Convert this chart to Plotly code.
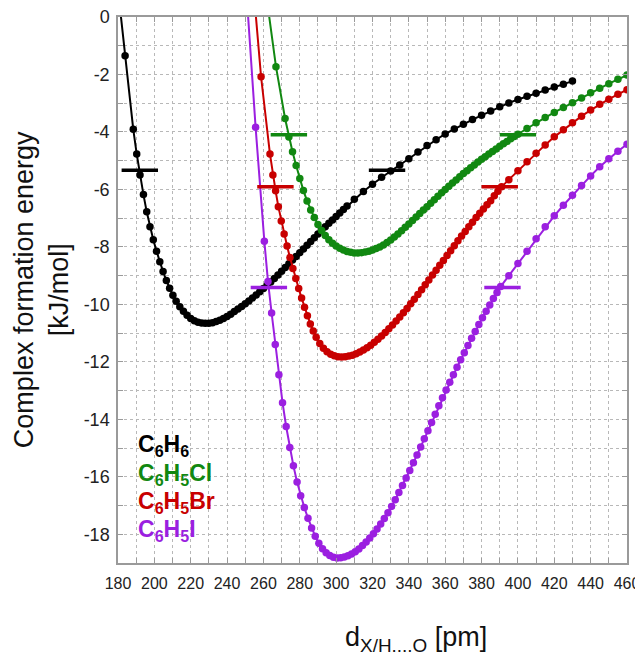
import plotly.graph_objects as go

# ---------------- data ----------------
series_names = ["C<sub>6</sub>H<sub>6</sub>", "C<sub>6</sub>H<sub>5</sub>Cl",
                "C<sub>6</sub>H<sub>5</sub>Br", "C<sub>6</sub>H<sub>5</sub>I"]
series_colors = ["#000000", "#118811", "#c80000", "#9b1fe0"]

x_c6h6 = [180.6, 183.9, 188.4, 190.3, 192.1, 194.0, 195.8, 197.6, 199.4, 201.2, 203.0, 204.8, 206.6, 208.4, 210.2,
          212, 214, 216, 218, 220, 222, 224, 226, 228, 230, 232, 234, 236, 238, 240, 242, 244, 246, 248, 250,
          252, 254, 256, 258, 260, 262, 264, 266, 268, 270, 272, 274, 276, 278, 280, 282, 284, 286, 288, 290,
          292, 294, 296, 298, 300, 302, 304, 306,
          310, 315, 320, 325, 330, 335, 340, 345, 350, 355, 360, 365, 370, 375, 380, 385, 390, 395, 400, 405,
          410, 415, 420, 425, 430]
y_c6h6 = [0.6, -1.35, -3.91, -4.77, -5.5, -6.18, -6.78, -7.3, -7.75, -8.15, -8.52, -8.86, -9.17, -9.44, -9.68,
          -9.89, -10.08, -10.24, -10.38, -10.49, -10.57, -10.62, -10.65, -10.66, -10.66, -10.64, -10.6, -10.55,
          -10.49, -10.42, -10.34, -10.25, -10.16, -10.07, -9.98, -9.88, -9.78, -9.67, -9.56, -9.45, -9.34, -9.22,
          -9.1, -8.98, -8.85, -8.72, -8.59, -8.46, -8.33, -8.2, -8.07, -7.94, -7.81, -7.68, -7.55, -7.42, -7.3,
          -7.18, -7.06, -6.94, -6.82, -6.7, -6.58,
          -6.34, -6.07, -5.82, -5.58, -5.36, -5.15, -4.93, -4.7, -4.47, -4.27, -4.07, -3.9, -3.73, -3.57, -3.42,
          -3.27, -3.12, -2.99, -2.87, -2.76, -2.65, -2.54, -2.44, -2.34, -2.23]

x_c6h5cl = [262.2, 266.9, 271.9, 274.0, 276.0, 278.0, 280.0, 282.0, 284.0, 286.0, 288.0,
            290, 292, 294, 296, 298, 300, 302, 304, 306, 308, 310, 312, 314, 316, 318, 320, 322, 324, 326, 328,
            330, 332, 334, 336, 338, 340, 342, 344, 346, 348, 350, 352, 354, 356, 358, 360, 362, 364, 366, 368,
            370, 372, 374, 376, 378, 380, 382, 384, 386, 388, 390, 392, 394, 396, 398, 400,
            405, 410, 415, 420, 425, 430, 435, 440, 445, 450, 455, 460]
y_c6h5cl = [0.47, -1.73, -3.53, -4.18, -4.69, -5.17, -5.62, -6.04, -6.4, -6.72, -6.98,
            -7.22, -7.43, -7.6, -7.75, -7.87, -7.97, -8.05, -8.11, -8.16, -8.19, -8.21, -8.21, -8.2, -8.18, -8.15,
            -8.11, -8.06, -8.0, -7.93, -7.85, -7.76, -7.66, -7.55, -7.44, -7.32, -7.2, -7.08, -6.96, -6.84, -6.72,
            -6.6, -6.48, -6.36, -6.24, -6.12, -6.0, -5.89, -5.78, -5.67, -5.56, -5.45, -5.35, -5.25, -5.15, -5.05,
            -4.95, -4.86, -4.77, -4.68, -4.59, -4.5, -4.41, -4.33, -4.24, -4.16, -4.08,
            -3.88, -3.68, -3.5, -3.32, -3.15, -2.98, -2.82, -2.64, -2.48, -2.32, -2.17, -2.02]

x_c6h5br = [254.8, 258.7, 263.6, 265.2, 266.7, 268.2, 269.8, 271.4, 273.0, 274.6, 276.2, 277.8, 279.4, 281.0,
            282.6, 284.2, 285.8, 287.4, 289.0,
            291, 293, 295, 297, 299, 301, 303, 305, 307, 309, 311, 313, 315, 317, 319, 321, 323, 325, 327, 329,
            331, 333, 335, 337, 339, 341, 343, 345, 347, 349, 351, 353, 355, 357, 359, 361, 363, 365, 367, 369,
            371, 373, 375, 377, 379, 381, 383, 385, 387, 389, 391,
            395, 400, 405, 410, 415, 420, 425, 430, 435, 440, 445, 450, 455, 460]
y_c6h5br = [0.8, -2.08, -4.77, -5.5, -6.05, -6.6, -7.1, -7.55, -7.97, -8.37, -8.75, -9.1, -9.45, -9.78, -10.1,
            -10.4, -10.68, -10.93, -11.14,
            -11.36, -11.53, -11.65, -11.74, -11.79, -11.82, -11.83, -11.82, -11.8, -11.77, -11.72, -11.66, -11.59,
            -11.51, -11.42, -11.32, -11.21, -11.1, -10.98, -10.85, -10.72, -10.58, -10.44, -10.29, -10.14, -9.98,
            -9.82, -9.66, -9.49, -9.32, -9.15, -8.98, -8.81, -8.64, -8.47, -8.3, -8.13, -7.96, -7.79, -7.62,
            -7.46, -7.3, -7.14, -6.98, -6.83, -6.68, -6.53, -6.39, -6.22, -6.06, -5.91,
            -5.66, -5.35, -5.04, -4.74, -4.45, -4.17, -3.92, -3.68, -3.45, -3.24, -3.04, -2.86, -2.69, -2.53]

x_c6h5i = [251.0, 255.7, 260.5,
           262.5, 264.5, 266.5, 268.5, 270.5, 272.5, 274.5, 276.5, 278.5, 280.5, 282.5, 284.5, 286.5, 288.5,
           290.5, 292.5, 294.5, 296.5, 298.5, 300.5, 302.5, 304.5, 306.5, 308.5, 310.5, 312.5, 314.5, 316.5,
           318.5, 320.5, 322.5, 324.5, 326.5, 328.5, 330.5, 332.5, 334.5, 336.5, 338.5, 340.5, 342.5, 344.5,
           346.5, 348.5, 350.5, 352.5, 354.5, 356.5, 358.5, 360.5, 362.5, 364.5, 366.5, 368.5, 370.5, 372.5,
           374.5, 376.5, 378.5, 380.5, 382.5, 384.5, 386.5, 388.5, 390.5,
           395, 400, 405, 410, 415, 420, 425, 430, 435, 440, 445, 450, 455, 460]
y_c6h5i = [0.55, -3.84, -7.8,
           -9.2, -10.3, -11.4, -12.45, -13.42, -14.25, -14.98, -15.62, -16.18, -16.66, -17.07, -17.44, -17.78,
           -18.07, -18.31, -18.5, -18.64, -18.74, -18.8, -18.83, -18.82, -18.79, -18.75, -18.69, -18.61, -18.51,
           -18.39, -18.27, -18.13, -17.98, -17.82, -17.64, -17.45, -17.25, -17.03, -16.8, -16.55, -16.3, -16.04,
           -15.78, -15.51, -15.24, -14.96, -14.68, -14.4, -14.11, -13.82, -13.53, -13.25, -12.98, -12.71, -12.45,
           -12.19, -11.93, -11.68, -11.43, -11.18, -10.94, -10.7, -10.47, -10.24, -10.02, -9.8, -9.59, -9.38,
           -9.0, -8.58, -8.15, -7.72, -7.3, -6.92, -6.55, -6.2, -5.86, -5.53, -5.21, -4.93, -4.67, -4.43]

# half-depth markers (E = Emin / 2) on both sides of each well
half_x = [[192.0, 328.0], [274.0, 400.0], [266.6, 390.0], [263.0, 391.5]]
half_y = [[-5.33, -5.33], [-4.1, -4.1], [-5.91, -5.91], [-9.41, -9.41]]

x_tick_vals = list(range(180, 461, 20))
x_tick_text = [str(v) for v in x_tick_vals]
y_tick_vals = [0, -2, -4, -6, -8, -10, -12, -14, -16, -18]
y_tick_text = ["0", "-2", "-4", "-6", "-8", "-10", "-12", "-14", "-16", "-18"]

xs = [x_c6h6, x_c6h5cl, x_c6h5br, x_c6h5i]
ys = [y_c6h6, y_c6h5cl, y_c6h5br, y_c6h5i]
for a, b in zip(xs, ys):
    assert len(a) == len(b), (len(a), len(b))

# ---------------- figure ----------------
FONT = "Liberation Sans, Arial, sans-serif"
fig = go.Figure()
for name, x, y, c in zip(series_names, xs, ys, series_colors):
    fig.add_trace(go.Scatter(x=x, y=y, mode="lines+markers", name=name,
                             line=dict(color=c, width=2),
                             marker=dict(size=7.5, color=c), showlegend=False))
for hx, hy, c in zip(half_x, half_y, series_colors):
    fig.add_trace(go.Scatter(x=hx, y=hy, mode="markers", showlegend=False,
                             marker=dict(symbol="line-ew", size=26, color=c,
                                         line=dict(width=3.5, color=c))))

grid = dict(showgrid=True, gridcolor="#b8b8b8", griddash="dot", gridwidth=1)
axis_common = dict(showline=True, linecolor="#9a9a9a", linewidth=1.5, mirror="ticks",
                   ticks="inside", ticklen=5, tickcolor="#9a9a9a", zeroline=False,
                   automargin=False, ticklabeloverflow="allow", **grid)

fig.update_xaxes(range=[180, 460], tickvals=x_tick_vals, ticktext=x_tick_text,
                 tickfont=dict(family=FONT, size=16, color="#222"), ticklabelstandoff=5,
                 minor=dict(dtick=10, tick0=180, ticks="inside", ticklen=5, tickcolor="#9a9a9a", **grid),
                 **axis_common)
fig.update_yaxes(range=[-19, 0], tickvals=y_tick_vals, ticktext=y_tick_text,
                 tickfont=dict(family=FONT, size=18, color="#222"), ticklabelstandoff=3,
                 minor=dict(dtick=1, tick0=0, ticks="inside", ticklen=5, tickcolor="#9a9a9a", **grid),
                 **axis_common)

annotations = []
leg_y0 = 0.215
for i, (name, c) in enumerate(zip(series_names, series_colors)):
    annotations.append(dict(text="<b>" + name + "</b>", x=0.035, y=leg_y0 - i * 0.052,
                            xref="paper", yref="paper", xanchor="left", yanchor="middle",
                            showarrow=False, font=dict(family=FONT, size=23, color=c)))
annotations.append(dict(text="Complex formation energy<br>[kJ/mol]", x=-0.151, y=0.5,
                        xref="paper", yref="paper", xanchor="center", yanchor="middle",
                        textangle=-90, showarrow=False,
                        font=dict(family=FONT, size=27, color="#111")))
annotations.append(dict(text="d<sub>X/H....O</sub> [pm]", x=0.585, y=-0.105,
                        xref="paper", yref="paper", xanchor="center", yanchor="top",
                        showarrow=False, font=dict(family=FONT, size=27, color="#111")))

# page body has an 8px margin: figure placed at (8,8); plot area spans x 118..627, y 17..563
fig.update_layout(width=635, height=658, margin=dict(l=110, r=16, t=9, b=103),
                  paper_bgcolor="white", plot_bgcolor="white",
                  annotations=annotations, font=dict(family=FONT))

fig.write_html("out.html")
